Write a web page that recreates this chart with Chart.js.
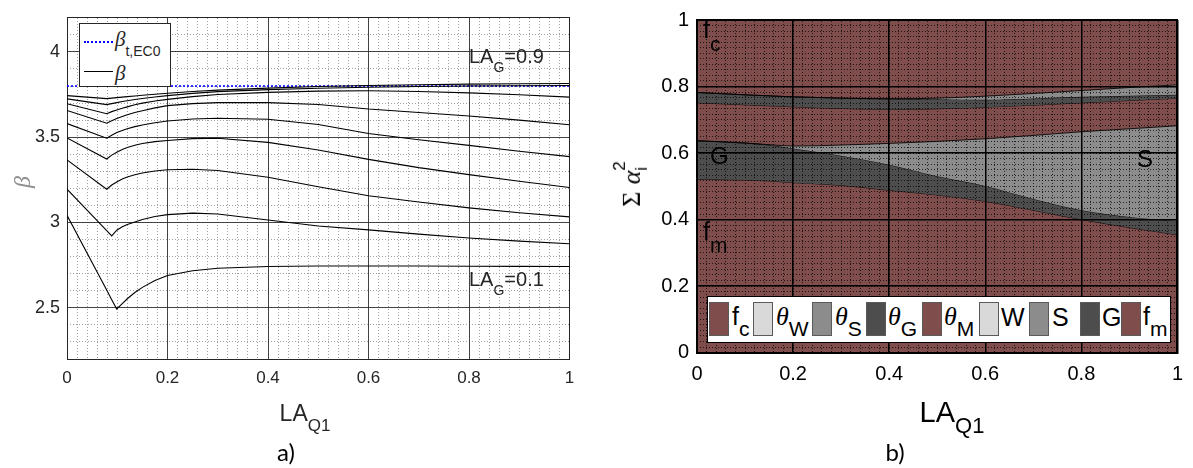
<!DOCTYPE html>
<html>
<head>
<meta charset="utf-8">
<script src="https://cdn.jsdelivr.net/npm/chart.js@4.4.1/dist/chart.umd.min.js"></script>
<style>
  html,body{margin:0;padding:0;background:#fff;}
  body{width:1193px;height:468px;position:relative;overflow:hidden;}
  canvas{position:absolute;top:0;}
  .t{position:absolute;font-family:'Liberation Sans',Arial,sans-serif;white-space:nowrap;line-height:1;color:#262626;}
  .sr{font-family:'Liberation Serif','DejaVu Serif',serif;font-style:italic;}
  .sw{position:absolute;top:302px;width:20px;height:34px;border:1px solid #5a5a5a;box-sizing:border-box;}
</style>
</head>
<body>
<canvas id="cA" width="600" height="468" style="left:0"></canvas>
<canvas id="cB" width="593" height="468" style="left:600px"></canvas>

<!-- panel a overlays -->
<div class="t" style="left:79px;top:23px;width:92px;height:64px;background:#fff;border:1px solid #262626;box-sizing:border-box;"></div>
<div style="position:absolute;left:84px;top:41px;width:29px;border-top:2px dotted #0000ff;"></div>
<div style="position:absolute;left:84px;top:71px;width:29px;border-top:1px solid #000;"></div>
<div class="t" style="left:115px;top:28px;font-size:21px;"><span class="sr">β</span><span style="font-size:14px;position:relative;top:10px;">t,EC0</span></div>
<div class="t" style="left:115px;top:62px;font-size:21px;"><span class="sr">β</span></div>
<div class="t" style="left:469px;top:46px;font-size:20px;">LA<span style="font-size:14px;position:relative;top:9px;">G</span>=0.9</div>
<div class="t" style="left:469px;top:269px;font-size:20px;">LA<span style="font-size:14px;position:relative;top:9px;">G</span>=0.1</div>
<div class="t sr" style="left:22px;top:182px;font-size:24px;color:#8c8c8c;transform:translate(-50%,-50%) rotate(-90deg);">β</div>
<div class="t" style="left:305px;top:402px;font-size:23px;transform:translateX(-50%);">LA<span style="font-size:17px;position:relative;top:10px;">Q1</span></div>
<div class="t" style="left:286px;top:440px;font-size:24px;font-family:Lato,'Open Sans',sans-serif;color:#000;transform:translateX(-50%);">a)</div>

<!-- panel b overlays -->
<div class="t" style="left:703px;top:17px;font-size:25px;color:#000;">f<span style="font-size:21px;position:relative;top:13px;">c</span></div>
<div class="t" style="left:710px;top:144px;font-size:24px;color:#000;">G</div>
<div class="t" style="left:1137px;top:147px;font-size:24px;color:#000;">S</div>
<div class="t" style="left:703px;top:219px;font-size:25px;color:#000;">f<span style="font-size:21px;position:relative;top:12px;">m</span></div>
<div class="t" style="left:633px;top:184px;font-size:26px;color:#000;transform:translate(-50%,-50%) rotate(-90deg);"><span style="font-family:'Liberation Serif',serif;">Σ</span> <span class="sr">α</span><span style="display:inline-flex;flex-direction:column;font-size:17px;line-height:1.3;vertical-align:middle;position:relative;top:-2px;"><span>2</span><span>i</span></span></div>
<div class="t" style="left:952px;top:398px;font-size:29px;color:#000;transform:translateX(-50%);">LA<span style="font-size:22px;position:relative;top:11px;">Q1</span></div>
<div class="t" style="left:895px;top:440px;font-size:24px;font-family:Lato,'Open Sans',sans-serif;color:#000;transform:translateX(-50%);">b)</div>

<div style="position:absolute;left:707px;top:296px;width:464px;height:47px;background:#fff;border:1.5px solid #000;box-sizing:border-box;"></div>
<div class="sw" style="left:709px;background:rgb(128,77,77);"></div>
<div class="sw" style="left:753px;background:#d9d9d9;"></div>
<div class="sw" style="left:812px;background:#8c8c8c;"></div>
<div class="sw" style="left:866px;background:#4d4d4d;"></div>
<div class="sw" style="left:922px;background:rgb(128,77,77);"></div>
<div class="sw" style="left:979px;background:#d9d9d9;"></div>
<div class="sw" style="left:1029px;background:#8c8c8c;"></div>
<div class="sw" style="left:1080px;background:#4d4d4d;"></div>
<div class="sw" style="left:1121px;background:rgb(128,77,77);"></div>
<div class="t" style="left:732px;top:304px;font-size:25px;color:#000;">f<span style="font-size:21px;position:relative;top:11px;">c</span></div>
<div class="t" style="left:776px;top:304px;font-size:25px;color:#000;"><span class="sr" style="font-size:26px;">θ</span><span style="font-size:21px;position:relative;top:11px;">W</span></div>
<div class="t" style="left:835px;top:304px;font-size:25px;color:#000;"><span class="sr" style="font-size:26px;">θ</span><span style="font-size:21px;position:relative;top:11px;">S</span></div>
<div class="t" style="left:888px;top:304px;font-size:25px;color:#000;"><span class="sr" style="font-size:26px;">θ</span><span style="font-size:21px;position:relative;top:11px;">G</span></div>
<div class="t" style="left:944px;top:304px;font-size:25px;color:#000;"><span class="sr" style="font-size:26px;">θ</span><span style="font-size:21px;position:relative;top:11px;">M</span></div>
<div class="t" style="left:1001px;top:305px;font-size:25px;color:#000;">W</div>
<div class="t" style="left:1052px;top:305px;font-size:25px;color:#000;">S</div>
<div class="t" style="left:1102px;top:305px;font-size:25px;color:#000;">G</div>
<div class="t" style="left:1143px;top:304px;font-size:25px;color:#000;">f<span style="font-size:21px;position:relative;top:11px;">m</span></div>

<script>
// ---------- Panel a) data ----------
const laLeft = [0, 0.079, 0.089, 0.099, 0.11, 0.12, 0.135, 0.15, 0.175, 0.2, 0.25, 0.3, 0.4, 0.5, 0.6, 0.7, 0.8, 0.9, 1.0];
const betaLAG01 = [3.042, 2.604, 2.548, 2.493, 2.525, 2.553, 2.590, 2.620, 2.660, 2.690, 2.717, 2.732, 2.742, 2.745, 2.745, 2.745, 2.744, 2.743, 2.742];
const betaLAG02 = [3.195, 2.953, 2.922, 2.955, 2.975, 2.988, 3.003, 3.018, 3.035, 3.046, 3.055, 3.050, 3.015, 2.980, 2.957, 2.932, 2.909, 2.891, 2.876];
const betaLAG03 = [3.367, 3.195, 3.220, 3.238, 3.255, 3.267, 3.280, 3.290, 3.302, 3.309, 3.312, 3.305, 3.265, 3.210, 3.157, 3.120, 3.086, 3.057, 3.033];
const betaLAG04 = [3.496, 3.372, 3.395, 3.412, 3.428, 3.440, 3.453, 3.463, 3.474, 3.481, 3.492, 3.494, 3.470, 3.425, 3.370, 3.322, 3.281, 3.242, 3.205];
const betaLAG05 = [3.580, 3.494, 3.512, 3.527, 3.540, 3.550, 3.562, 3.572, 3.585, 3.595, 3.607, 3.611, 3.605, 3.575, 3.522, 3.485, 3.452, 3.418, 3.386];
const betaLAG06 = [3.657, 3.582, 3.597, 3.610, 3.622, 3.632, 3.645, 3.655, 3.672, 3.685, 3.697, 3.703, 3.703, 3.692, 3.665, 3.645, 3.624, 3.600, 3.573];
const betaLAG07 = [3.696, 3.638, 3.650, 3.660, 3.670, 3.678, 3.690, 3.700, 3.712, 3.722, 3.738, 3.750, 3.763, 3.770, 3.772, 3.768, 3.760, 3.749, 3.735];
const betaLAG08 = [3.725, 3.691, 3.697, 3.703, 3.709, 3.714, 3.721, 3.727, 3.736, 3.744, 3.757, 3.767, 3.779, 3.787, 3.793, 3.797, 3.800, 3.802, 3.803];
const betaLAG09 = [3.744, 3.726, 3.729, 3.732, 3.735, 3.738, 3.742, 3.746, 3.752, 3.758, 3.768, 3.776, 3.788, 3.797, 3.803, 3.808, 3.811, 3.813, 3.815];
const targetLA = [0, 1];
const targetBeta = [3.8, 3.8];
const xTicksA = [0, 0.2, 0.4, 0.6, 0.8, 1];
const xTickLabelsA = ['0', '0.2', '0.4', '0.6', '0.8', '1'];
const yTicksA = [2.5, 3, 3.5, 4];
const yTickLabelsA = ['2.5', '3', '3.5', '4'];

// ---------- Panel b) data ----------
const laRight = [0, 0.1, 0.15, 0.2, 0.3, 0.4, 0.5, 0.6, 0.7, 0.8, 0.9, 1.0];
const fullTop = [1, 1, 1, 1, 1, 1, 1, 1, 1, 1, 1, 1];
const thetaTop = [0.782, 0.775, 0.772, 0.769, 0.765, 0.763, 0.765, 0.771, 0.779, 0.788, 0.797, 0.805];
const thetaSG = [0.782, 0.775, 0.772, 0.769, 0.765, 0.763, 0.762, 0.760, 0.764, 0.769, 0.772, 0.775];
const thetaBottom = [0.751, 0.745, 0.742, 0.739, 0.734, 0.731, 0.733, 0.738, 0.744, 0.751, 0.758, 0.765];
const modeTop = [0.637, 0.630, 0.625, 0.621, 0.624, 0.629, 0.635, 0.643, 0.653, 0.664, 0.673, 0.682];
const modeSG = [0.637, 0.630, 0.624, 0.614, 0.592, 0.565, 0.530, 0.501, 0.462, 0.428, 0.408, 0.396];
const modeBottom = [0.521, 0.519, 0.516, 0.511, 0.503, 0.488, 0.474, 0.455, 0.428, 0.400, 0.376, 0.354];
const xTicksB = [0, 0.2, 0.4, 0.6, 0.8, 1];
const xTickLabelsB = ['0', '0.2', '0.4', '0.6', '0.8', '1'];
const yTicksB = [0, 0.2, 0.4, 0.6, 0.8, 1];
const yTickLabelsB = ['0', '0.2', '0.4', '0.6', '0.8', '1'];

const BROWN = 'rgb(128,77,77)';
const GRAY_S = '#8c8c8c';
const GRAY_G = '#4d4d4d';
const FONT = "'Liberation Sans', Arial, sans-serif";

Chart.defaults.animation = false;
Chart.defaults.responsive = false;
Chart.defaults.devicePixelRatio = 1;
Chart.defaults.font.family = FONT;

function pts(xs, ys) { return xs.map((x, i) => ({x: x, y: ys[i]})); }

// ---------- Chart a ----------
const curvesA = [betaLAG01, betaLAG02, betaLAG03, betaLAG04, betaLAG05, betaLAG06, betaLAG07, betaLAG08, betaLAG09];
const dsA = curvesA.map(arr => ({
  data: pts(laLeft, arr), borderColor: '#000', borderWidth: 1.1, pointRadius: 0, tension: 0, fill: false
}));
dsA.push({data: pts(targetLA, targetBeta), borderColor: '#0000ff', borderWidth: 1.6, borderDash: [2, 2], pointRadius: 0, fill: false});

new Chart(document.getElementById('cA'), {
  type: 'line',
  data: {datasets: dsA},
  options: {
    events: [],
    layout: {padding: {left: 0, right: 30.5, top: 9, bottom: 0}},
    plugins: {legend: {display: false}, tooltip: {enabled: false}},
    scales: {
      xMinor: {
        type: 'linear', position: 'top', min: 0, max: 1,
        ticks: {display: false, stepSize: 0.02},
        grid: {color: '#a0a0a0', lineWidth: 1, drawTicks: false, z: -2},
        border: {display: true, color: '#262626', width: 1, dash: [1, 2]},
        afterFit: s => { s.height = 0; }
      },
      yMinor: {
        type: 'linear', position: 'right', min: 2.2, max: 4.2,
        ticks: {display: false, stepSize: 0.1},
        grid: {color: '#a0a0a0', lineWidth: 1, drawTicks: false, z: -2},
        border: {display: true, color: '#262626', width: 1, dash: [1, 2]},
        afterFit: s => { s.width = 0; }
      },
      x: {
        type: 'linear', position: 'bottom', min: 0, max: 1,
        afterBuildTicks: s => { s.ticks = xTicksA.map(v => ({value: v})); },
        ticks: {callback: (v, i) => xTickLabelsA[i], font: {size: 17}, color: '#262626', padding: 9, maxRotation: 0, autoSkip: false},
        grid: {color: 'rgba(40,40,40,0.85)', lineWidth: 1, drawTicks: false, z: -1},
        border: {color: '#262626', width: 1},
        afterFit: s => { s.height = 109; }
      },
      y: {
        type: 'linear', position: 'left', min: 2.2, max: 4.2,
        afterBuildTicks: s => { s.ticks = yTicksA.map(v => ({value: v})); },
        ticks: {callback: (v, i) => yTickLabelsA[i], font: {size: 18}, color: '#262626', padding: 7, autoSkip: false},
        grid: {color: 'rgba(40,40,40,0.85)', lineWidth: 1, drawTicks: false, z: -1},
        border: {color: '#262626', width: 1},
        afterFit: s => { s.width = 67; }
      }
    }
  }
});

// ---------- Chart b ----------
const edge = {borderColor: 'rgba(0,0,0,0.85)', borderWidth: 1, pointRadius: 0, cubicInterpolationMode: 'monotone'};
const dsB = [
  {data: pts(laRight, fullTop), backgroundColor: BROWN, borderWidth: 0, pointRadius: 0, fill: 'start', order: 10},
  Object.assign({data: pts(laRight, thetaTop), backgroundColor: GRAY_S, fill: '+1'}, edge),
  Object.assign({data: pts(laRight, thetaSG), backgroundColor: GRAY_G, fill: '+1'}, edge),
  Object.assign({data: pts(laRight, thetaBottom), fill: false}, edge),
  Object.assign({data: pts(laRight, modeTop), backgroundColor: GRAY_S, fill: '+1'}, edge),
  Object.assign({data: pts(laRight, modeSG), backgroundColor: GRAY_G, fill: '+1'}, edge),
  Object.assign({data: pts(laRight, modeBottom), fill: false}, edge)
];

new Chart(document.getElementById('cB'), {
  type: 'line',
  data: {datasets: dsB},
  options: {
    events: [],
    layout: {padding: {left: 0, right: 7, top: 12, bottom: 0}},
    plugins: {legend: {display: false}, tooltip: {enabled: false}},
    scales: {
      xMinor: {
        type: 'linear', position: 'top', min: 0, max: 1,
        ticks: {display: false, stepSize: 0.02},
        grid: {color: 'rgba(0,0,0,0.75)', lineWidth: 1, drawTicks: false, z: 1},
        border: {display: true, color: '#000', width: 2, dash: [1, 2], z: 3},
        afterFit: s => { s.height = 0; }
      },
      yMinor: {
        type: 'linear', position: 'right', min: 0, max: 1,
        ticks: {display: false, stepSize: 1 / 60},
        grid: {color: 'rgba(0,0,0,0.75)', lineWidth: 1, drawTicks: false, z: 1},
        border: {display: true, color: '#000', width: 2, dash: [1, 2], z: 3},
        afterFit: s => { s.width = 0; }
      },
      x: {
        type: 'linear', position: 'bottom', min: 0, max: 1,
        afterBuildTicks: s => { s.ticks = xTicksB.map(v => ({value: v})); },
        ticks: {callback: (v, i) => xTickLabelsB[i], font: {size: 20}, color: '#000', padding: 10, maxRotation: 0, autoSkip: false, z: 3},
        grid: {color: '#000', lineWidth: 1.5, drawTicks: false, z: 2},
        border: {color: '#000', width: 2, z: 3},
        afterFit: s => { s.height = 115.4; }
      },
      y: {
        type: 'linear', position: 'left', min: 0, max: 1,
        afterBuildTicks: s => { s.ticks = yTicksB.map(v => ({value: v})); },
        ticks: {callback: (v, i) => yTickLabelsB[i], font: {size: 20}, color: '#000', padding: 8, autoSkip: false, z: 3},
        grid: {color: '#000', lineWidth: 1.5, drawTicks: false, z: 2},
        border: {color: '#000', width: 2, z: 3},
        afterFit: s => { s.width = 97; }
      }
    }
  }
});
</script>
</body>
</html>
